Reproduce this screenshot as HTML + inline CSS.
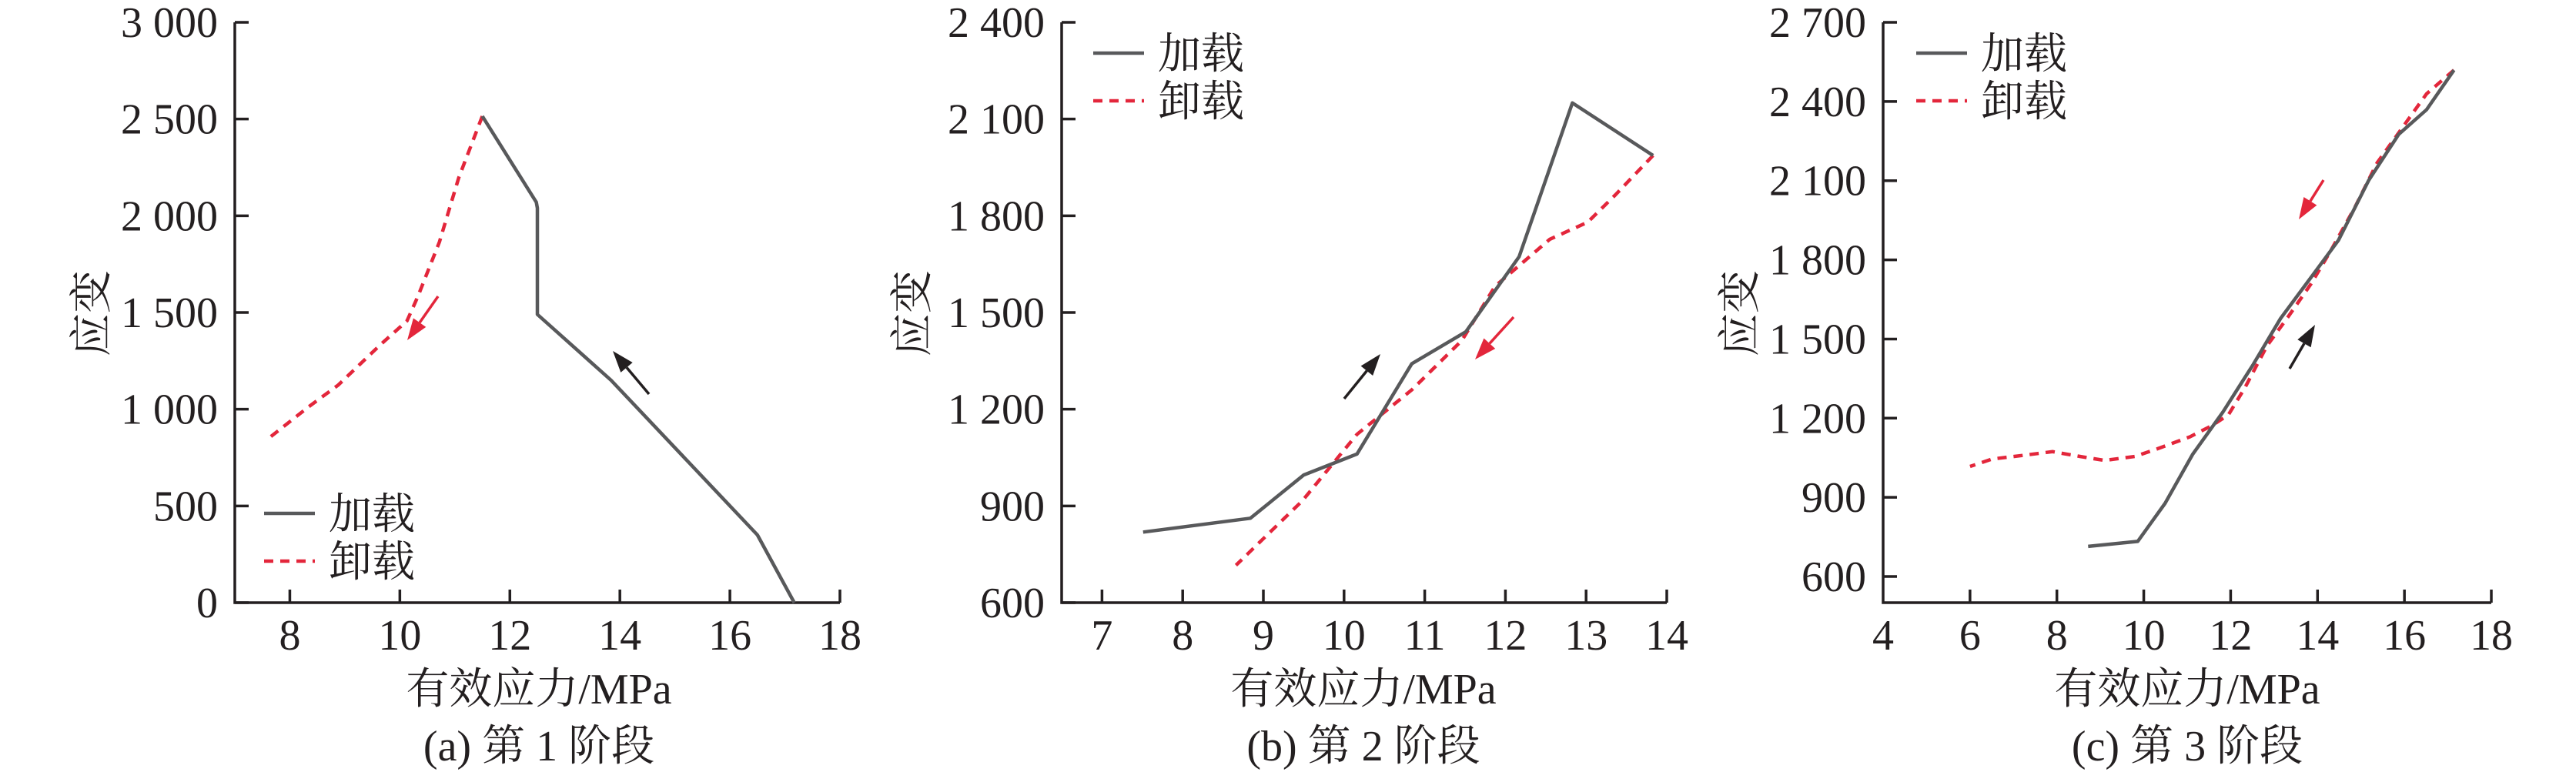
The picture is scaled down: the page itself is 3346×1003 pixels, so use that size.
<!DOCTYPE html>
<html><head><meta charset="utf-8"><style>
html,body{margin:0;padding:0;background:#fff;}
svg{display:block;}
text{font-family:"Liberation Serif","Noto Serif CJK SC","Noto Sans CJK SC",serif;fill:#231f20;}
</style></head><body>
<svg id="chart" width="3346" height="1003" viewBox="0 0 3346 1003" xmlns="http://www.w3.org/2000/svg"></svg>
<script>
// Panel (a) data
const aLoadX = [17.17, 16.5, 13.84, 12.5, 12.5, 12.48, 11.5];
const aLoadY = [0, 350, 1150, 1490, 2040, 2070, 2515];
const aUnloadX = [11.5, 11.07, 10.72, 10.33, 10.13, 9.63, 8.88, 8.33, 7.56];
const aUnloadY = [2515, 2196, 1865, 1584, 1457, 1329, 1125, 1010, 837];
const aXTicks = [8, 10, 12, 14, 16, 18];
const aYTicks = [0, 500, 1000, 1500, 2000, 2500, 3000];
const aYLabels = ["0", "500", "1 000", "1 500", "2 000", "2 500", "3 000"];
// Panel (b) data
const bLoadX = [7.51, 8.84, 9.50, 10.16, 10.84, 11.51, 12.17, 12.83, 13.83];
const bLoadY = [819, 862, 996, 1061, 1341, 1440, 1673, 2150, 1987];
const bUnloadX = [13.83, 13.36, 13.02, 12.55, 11.87, 11.46, 10.84, 10.16, 9.48, 8.66];
const bUnloadY = [1987, 1864, 1780, 1727, 1581, 1413, 1260, 1122, 915, 716];
const bXTicks = [7, 8, 9, 10, 11, 12, 13, 14];
const bYTicks = [600, 900, 1200, 1500, 1800, 2100, 2400];
const bYLabels = ["600", "900", "1 200", "1 500", "1 800", "2 100", "2 400"];
// Panel (c) data
const cLoadX = [8.72, 9.86, 10.49, 11.13, 11.82, 12.52, 13.15, 13.91, 14.48, 15.18, 15.87, 16.51, 17.14];
const cLoadY = [714, 733, 877, 1064, 1223, 1404, 1578, 1747, 1874, 2102, 2276, 2369, 2519];
const cUnloadX = [17.14, 16.51, 15.94, 15.37, 14.86, 14.29, 13.85, 13.34, 12.84, 12.33, 11.95, 11.57, 11.06, 10.30, 9.80, 9.10, 8.53, 7.90, 7.27, 6.51, 6.00];
const cUnloadY = [2519, 2429, 2298, 2167, 1999, 1831, 1709, 1588, 1475, 1316, 1213, 1172, 1129, 1083, 1055, 1040, 1055, 1073, 1060, 1045, 1017];
const cXTicks = [4, 6, 8, 10, 12, 14, 16, 18];
const cYTicks = [600, 900, 1200, 1500, 1800, 2100, 2400, 2700];
const cYLabels = ["600", "900", "1 200", "1 500", "1 800", "2 100", "2 400", "2 700"];

const NS = "http://www.w3.org/2000/svg";
const svg = document.getElementById('chart');
const FS = 56;
function mk(tag, attrs, parent, txt) {
  const e = document.createElementNS(NS, tag);
  for (const k in attrs) e.setAttribute(k, attrs[k]);
  if (txt !== undefined) e.textContent = txt;
  (parent || svg).appendChild(e);
  return e;
}

function panel(p) {
  const g = mk('g', {});
  
  
  const sx = v => p.x0 + (v - p.xmin) / (p.xmax - p.xmin) * (p.x1 - p.x0);
  const sy = v => p.y0 - (v - p.ymin) / (p.ymax - p.ymin) * (p.y0 - p.y1);
  const ax = mk('path', {d: `M${p.x0},${p.y1} L${p.x0},${p.y0} L${p.x1},${p.y0}`, fill: 'none', stroke: '#231f20', 'stroke-width': 3.5}, g);
  
  
  p.xt.forEach(v => {
    const x = sx(v);
    if (Math.abs(x - p.x0) > 2) mk('line', {x1: x, y1: p.y0, x2: x, y2: p.y0 - 17, stroke: '#231f20', 'stroke-width': 3.5}, g);
    const t = mk('text', {x: x, y: p.y0 + 61, 'font-size': FS, 'text-anchor': 'middle'}, g, String(v));
    
    
  });
  p.yt.forEach((v, i) => {
    const y = sy(v);
    mk('line', {x1: p.x0, y1: y, x2: p.x0 + 18, y2: y, stroke: '#231f20', 'stroke-width': 3.5}, g);
    const t = mk('text', {x: p.x0 - 22, y: y + 19, 'font-size': FS, 'text-anchor': 'end'}, g, p.yl[i]);
    
    
  });
  const pts = (xs, ys) => xs.map((v, i) => sx(v).toFixed(1) + ',' + sy(ys[i]).toFixed(1)).join(' ');
  const un = mk('polyline', {points: pts(p.ux, p.uy), fill: 'none', stroke: '#e3263b', 'stroke-width': 4.5, 'stroke-dasharray': '12 9'}, g);
  
  
  const ld = mk('polyline', {points: pts(p.lx, p.ly), fill: 'none', stroke: '#58595b', 'stroke-width': 4.5, 'stroke-linejoin': 'round'}, g);
  
  
  p.arrows.forEach(a => {
    const [x1, y1, x2, y2, c] = a;
    const ang = Math.atan2(y2 - y1, x2 - x1), L = 28, W = 10;
    const bx = x2 - L * Math.cos(ang), by = y2 - L * Math.sin(ang);
    const ar = mk('g', {}, g);
    
    
    mk('line', {x1, y1, x2: bx, y2: by, stroke: c, 'stroke-width': 3.5}, ar);
    mk('polygon', {points: `${x2},${y2} ${bx - W * Math.sin(ang)},${by + W * Math.cos(ang)} ${bx + W * Math.sin(ang)},${by - W * Math.cos(ang)}`, fill: c}, ar);
  });
  const lg = mk('g', {}, g);
  
  
  mk('line', {x1: p.lgx, y1: p.lgy, x2: p.lgx + 66, y2: p.lgy, stroke: '#58595b', 'stroke-width': 4.5}, lg);
  mk('text', {x: p.lgx + 84, y: p.lgy + 20, 'font-size': FS}, lg, '加载');
  mk('line', {x1: p.lgx, y1: p.lgy + 62, x2: p.lgx + 66, y2: p.lgy + 62, stroke: '#e3263b', 'stroke-width': 4.5, 'stroke-dasharray': '12 9'}, lg);
  mk('text', {x: p.lgx + 84, y: p.lgy + 82, 'font-size': FS}, lg, '卸载');
  const yt = mk('text', {x: 0, y: 0, 'font-size': FS, 'text-anchor': 'middle', transform: `translate(${p.ytx + 20},407) rotate(-90)`}, g, '应变');
  
  
  const xt = mk('text', {x: p.cx, y: 914, 'font-size': FS, 'text-anchor': 'middle'}, g, '有效应力/MPa');
  
  
  const cp = mk('text', {x: p.cx, y: 988, 'font-size': FS, 'text-anchor': 'middle'}, g, p.cap);
  
  
}

panel({id: 'a', x0: 305, x1: 1091, xmin: 7, xmax: 18, y0: 783, y1: 29, ymin: 0, ymax: 3000,
  xt: aXTicks, yt: aYTicks, yl: aYLabels, lx: aLoadX, ly: aLoadY, ux: aUnloadX, uy: aUnloadY,
  arrows: [[843, 512, 796, 456, '#231f20'], [569, 385, 529, 442, '#e3263b']],
  lgx: 343, lgy: 667, ytx: 118, cx: 700, cap: '(a) 第 1 阶段'});
panel({id: 'b', x0: 1379, x1: 2165, xmin: 6.5, xmax: 14, y0: 783, y1: 29, ymin: 600, ymax: 2400,
  xt: bXTicks, yt: bYTicks, yl: bYLabels, lx: bLoadX, ly: bLoadY, ux: bUnloadX, uy: bUnloadY,
  arrows: [[1746, 518, 1793, 460, '#231f20'], [1966, 412, 1916, 467, '#e3263b']],
  lgx: 1420, lgy: 69, ytx: 1184, cx: 1771, cap: '(b) 第 2 阶段'});
panel({id: 'c', x0: 2446, x1: 3236, xmin: 4, xmax: 18, y0: 783, y1: 29, ymin: 500.9, ymax: 2700,
  xt: cXTicks, yt: cYTicks, yl: cYLabels, lx: cLoadX, ly: cLoadY, ux: cUnloadX, uy: cUnloadY,
  arrows: [[2974, 479, 3007, 422, '#231f20'], [3018, 234, 2986, 285, '#e3263b']],
  lgx: 2489, lgy: 69, ytx: 2259, cx: 2841, cap: '(c) 第 3 阶段'});
</script>
</body></html>
